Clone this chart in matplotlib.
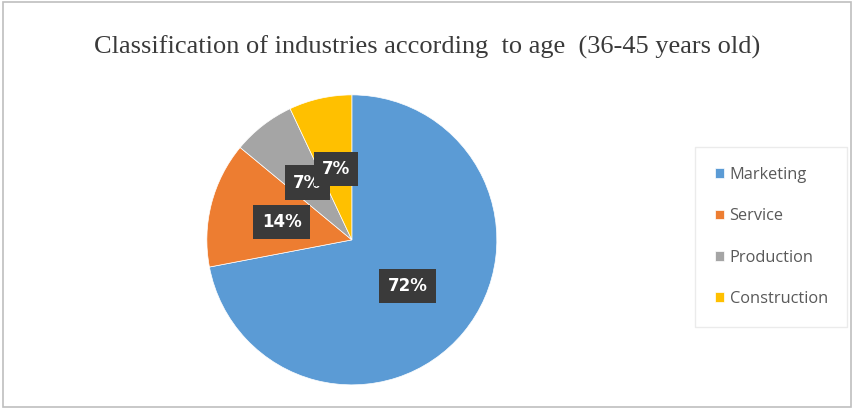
import matplotlib
matplotlib.use("Agg")
import matplotlib.pyplot as plt
from matplotlib.patches import Rectangle

categories = ["Marketing", "Service", "Production", "Construction"]
shares = [72, 14, 7, 7]
colors = ["#5b9bd5", "#ed7d31", "#a5a5a5", "#ffc000"]

fig = plt.figure(figsize=(8.54, 4.09), dpi=100)
fig.patch.set_facecolor("white")
fig.patches.append(Rectangle((0.003, 0.005), 0.994, 0.99, transform=fig.transFigure,
                             fill=False, edgecolor="#bfbfbf", linewidth=1.2))

ax = fig.add_axes([0.242, 0.059, 0.34, 0.709])
wedges, texts, autotexts = ax.pie(
    shares, colors=colors, startangle=90, counterclock=False,
    autopct="%1.0f%%", pctdistance=0.5,
    wedgeprops=dict(edgecolor="white", linewidth=0.5),
)
for t in autotexts:
    t.set_color("white")
    t.set_fontweight("bold")
    t.set_fontsize(12)
    t.set_bbox(dict(boxstyle="square,pad=0.5", facecolor="#3a3a3a", edgecolor="none"))
ax.set_xlim(-1, 1)
ax.set_ylim(-1, 1)
ax.set_aspect("equal")

fig.text(0.5, 0.885, "Classification of industries according  to age  (36-45 years old)",
         ha="center", va="center", fontsize=19, family="Liberation Serif", color="#3a3a3a")

leg = fig.legend(wedges, categories, loc="upper left", bbox_to_anchor=(0.814, 0.64),
                 frameon=True, labelspacing=1.55, handlelength=0.55,
                 handleheight=0.55, handletextpad=0.35, borderpad=0.9,
                 borderaxespad=0.3, prop={"family": "Open Sans", "size": 11.8})
leg.get_frame().set_edgecolor("#e6e6e6")
leg.get_frame().set_boxstyle("square")
for t in leg.get_texts():
    t.set_color("#595959")

fig.savefig("out.png", dpi=100)
